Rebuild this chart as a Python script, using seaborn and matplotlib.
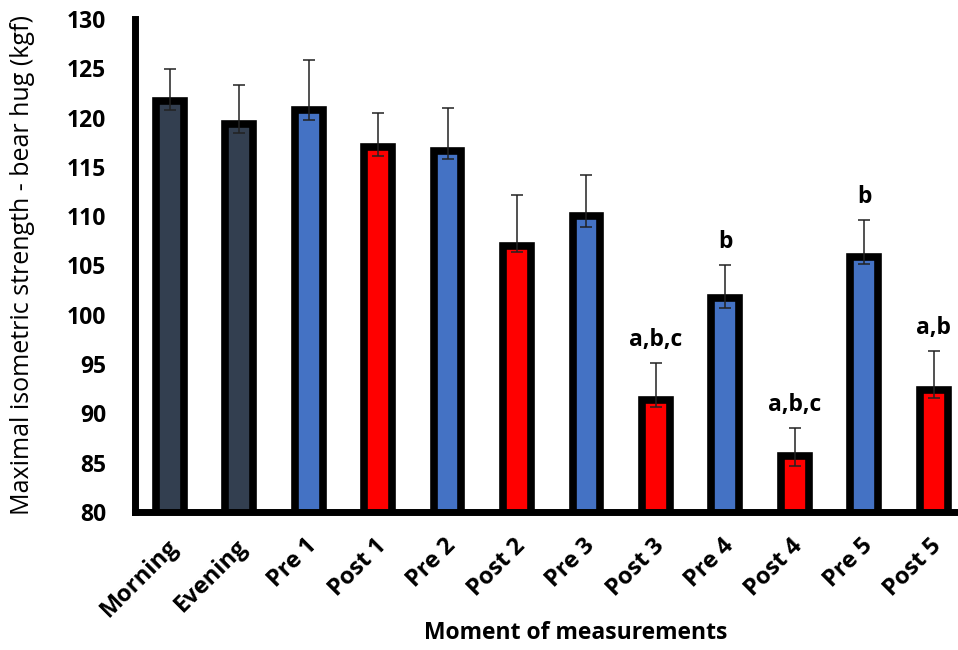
import matplotlib
matplotlib.use("Agg")
import matplotlib.pyplot as plt
import matplotlib.transforms as mtransforms
import seaborn as sns
import numpy as np

moments = ["Morning", "Evening", "Pre 1", "Post 1", "Pre 2", "Post 2",
           "Pre 3", "Post 3", "Pre 4", "Post 4", "Pre 5", "Post 5"]
means = [121.7, 119.4, 120.8, 117.0, 116.6, 107.0,
         110.0, 91.4, 101.7, 85.7, 105.9, 92.4]
err_upper = [3.2, 3.9, 5.0, 3.5, 4.4, 5.1, 4.2, 3.7, 3.3, 2.8, 3.7, 3.9]
err_lower = [0.9, 1.0, 1.0, 0.9, 0.8, 0.6, 1.1, 0.8, 1.0, 1.0, 0.7, 0.8]
groups = ["Baseline", "Baseline", "Pre", "Post", "Pre", "Post",
          "Pre", "Post", "Pre", "Post", "Pre", "Post"]
group_colors = {"Baseline": "#333F50", "Pre": "#4472C4", "Post": "#FF0000"}
annotations = ["", "", "", "", "", "", "", "a,b,c", "b", "a,b,c", "b", "a,b"]

sns.set_style("white")
plt.rcParams["font.family"] = ["Open Sans", "DejaVu Sans"]
plt.rcParams["text.color"] = "black"
plt.rcParams["axes.labelcolor"] = "black"
plt.rcParams["xtick.color"] = "black"
plt.rcParams["ytick.color"] = "black"

fig = plt.figure(figsize=(9.58, 6.5), dpi=100)
ax = fig.add_axes([0.141, 0.2123, 0.859, 0.7585])

colors = [group_colors[g] for g in groups]
sns.barplot(x=moments, y=means, hue=moments, palette=colors, legend=False,
            saturation=1, width=0.40, edgecolor="black", linewidth=5.5,
            ax=ax, zorder=2)

xs = np.arange(len(moments))
ax.errorbar(xs, means, yerr=[err_lower, err_upper], fmt="none",
            ecolor="#222222", elinewidth=1.1, capsize=4, capthick=1.1, zorder=3)

for x, m, eu, t in zip(xs, means, err_upper, annotations):
    if t:
        ax.annotate(t, xy=(x, m + eu), xytext=(0, 8), textcoords="offset points",
                    ha="center", va="bottom", fontsize=16.5, fontweight="bold")

ax.set_ylim(80, 130)
ax.set_xlim(-0.5, 11.35)
ax.set_yticks(np.arange(80, 131, 5))
ax.tick_params(axis="y", labelsize=16.5, length=0, pad=21)
ax.tick_params(axis="x", labelsize=17, length=0, pad=16)
for lab in ax.get_yticklabels():
    lab.set_fontweight("bold")
offset = mtransforms.ScaledTranslation(-4 / 100, 0, fig.dpi_scale_trans)
for lab in ax.get_xticklabels():
    lab.set_fontweight("bold")
    lab.set_rotation(45)
    lab.set_ha("right")
    lab.set_rotation_mode("anchor")
    lab.set_transform(lab.get_transform() + offset)

for s in ["top", "right"]:
    ax.spines[s].set_visible(False)
ax.spines["left"].set_linewidth(5)
ax.spines["bottom"].set_linewidth(5)
ax.spines["left"].set_color("black")
ax.spines["bottom"].set_color("black")

ax.set_ylabel("Maximal isometric strength - bear hug (kgf)", fontsize=18)
ax.yaxis.set_label_coords(-(135 - 22) / 823, 0.5)
ax.yaxis.label.set_va("center")
ax.set_xlabel("Moment of measurements", fontsize=16.5, fontweight="bold")
ax.xaxis.set_label_coords((576 - 135) / 823, -(633 - 512) / 493)
ax.xaxis.label.set_va("center")

fig.savefig("out.png", dpi=100)
